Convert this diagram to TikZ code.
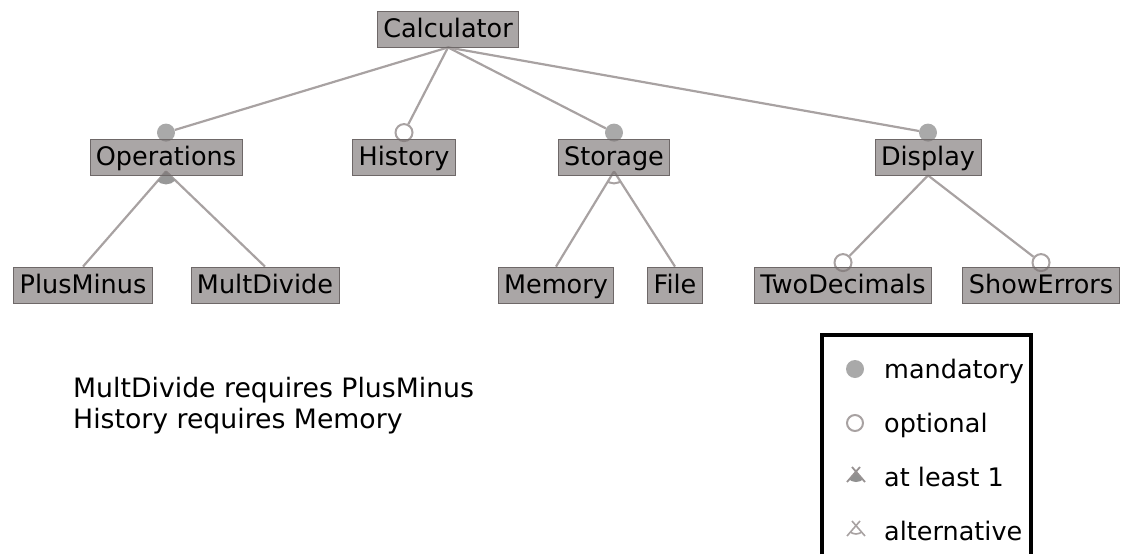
\documentclass[tikz,border=0pt]{standalone}
\usepackage{fontspec}
\setmainfont{DejaVu Sans}
\usetikzlibrary{shapes}

\definecolor{featfill}{HTML}{797272}
\definecolor{featline}{HTML}{6E6868}
\definecolor{edgecol}{HTML}{A8A2A2}
\definecolor{dotcol}{HTML}{A9A9A9}

\pgfdeclarelayer{background}
\pgfsetlayers{background,main}

\newcommand{\featfont}{\fontsize{25.5}{30}\selectfont}
\newcommand{\reqfont}{\fontsize{26.7}{31}\selectfont}

\tikzset{
  feature/.style={rectangle, draw=featline, fill=featfill, fill opacity=0.63, text opacity=1,
    line width=0.8pt, minimum height=36pt, inner xsep=6pt, text height=20pt, text depth=4pt},
  edge/.style={draw=edgecol, line width=2.2pt},
  mandatory/.style={circle, fill=dotcol, inner sep=0pt, minimum size=18pt},
  optional/.style={circle, draw=edgecol, fill=white, line width=2pt, inner sep=0pt, minimum size=17pt},
  legtext/.style={anchor=base west, inner sep=0pt}
}

\begin{document}
\begin{tikzpicture}[x=1pt, y=-1pt, every node/.style={font=\featfont}]
    \useasboundingbox (0,0) rectangle (1123,554);

    % features
    \node[feature] (Calc) at (448,29) {Calculator};
    \node[feature] (Ops) at (166,157) {Operations};
    \node[feature] (Hist) at (404,157) {History};
    \node[feature] (Stor) at (614,157) {Storage};
    \node[feature] (Disp) at (928,157) {Display};
    \node[feature] (Plus) at (83,285) {PlusMinus};
    \node[feature] (Mult) at (265,285) {MultDivide};
    \node[feature] (Mem) at (556,285) {Memory};
    \node[feature] (File) at (675,285) {File};
    \node[feature] (TwoDec) at (843,285) {TwoDecimals};
    \node[feature] (ShowErr) at (1041,285) {ShowErrors};

    \begin{pgfonlayer}{background}
        % markers on top of the children
        \node[mandatory] (OpsDot) at ([yshift=6pt]Ops.north) {};
        \node[optional] (HistDot) at ([yshift=6pt]Hist.north) {};
        \node[mandatory] (StorDot) at ([yshift=6pt]Stor.north) {};
        \node[mandatory] (DispDot) at ([yshift=6pt]Disp.north) {};
        \node[optional] (TwoDecDot) at ([yshift=4pt]TwoDec.north) {};
        \node[optional] (ShowErrDot) at ([yshift=4pt]ShowErr.north) {};

        \draw[edge] (Calc.south) -- (OpsDot);
        \draw[edge] (Calc.south) -- (HistDot);
        \draw[edge] (Calc.south) -- (StorDot);
        \draw[edge] (Calc.south) -- (DispDot);

        \coordinate (OpsTop) at ([yshift=4pt]Ops.south);
        \coordinate (StorTop) at ([yshift=4pt]Stor.south);
        \draw[edge] (OpsTop) -- (Plus.north);
        \draw[edge] (OpsTop) -- (Mult.north);
        \draw[edge] (StorTop) -- (Mem.north);
        \draw[edge] (StorTop) -- (File.north);
        \draw[edge] (Disp.south) -- (TwoDecDot);
        \draw[edge] (Disp.south) -- (ShowErrDot);

        % or group
        \begin{scope}
            \clip (OpsTop) -- (Plus.north) -- (Mult.north) -- cycle;
            \fill[dotcol!90!black] (OpsTop) circle (13);
        \end{scope}
        % alternative group
        \begin{scope}
            \clip (StorTop) -- (Mem.north) -- (File.north) -- cycle;
            \draw[edgecol, line width=2pt] (StorTop) circle (12);
        \end{scope}
    \end{pgfonlayer}

    % constraints
    \node[legtext, font=\reqfont] (Req1) at (73,397) {MultDivide requires PlusMinus};
    \node[legtext, font=\reqfont] (Req2) at (73,428) {History requires Memory};

    % legend
    \draw[line width=3.5pt] (822,554) -- (822,335) -- (1031,335) -- (1031,554);
    \node[mandatory] (LegMand) at (855,369) {};
    \node[optional, minimum size=16pt] (LegOpt) at (855,423) {};
    \begin{scope}
        \clip (856,471) -- (845,484) -- (867,484) -- cycle;
        \fill[dotcol!85!black] (856,471) circle (11);
    \end{scope}
    \draw[edgecol!90!black, line width=1.8pt] (847,482) -- (860,467) (865,482) -- (852,467);
    \draw[edgecol, line width=1.6pt] (847,536) -- (860,521) (865,536) -- (852,521);
    \begin{scope}
        \clip (856,525) -- (845,538) -- (867,538) -- cycle;
        \draw[edgecol, line width=1.6pt] (856,525) circle (9);
    \end{scope}
    \node[legtext] (LegMandTxt) at (884,378) {mandatory};
    \node[legtext] (LegOptTxt) at (884,432) {optional};
    \node[legtext] (LegOrTxt) at (884,486) {at least 1};
    \node[legtext] (LegAltTxt) at (884,540) {alternative};
\end{tikzpicture}
\end{document}
